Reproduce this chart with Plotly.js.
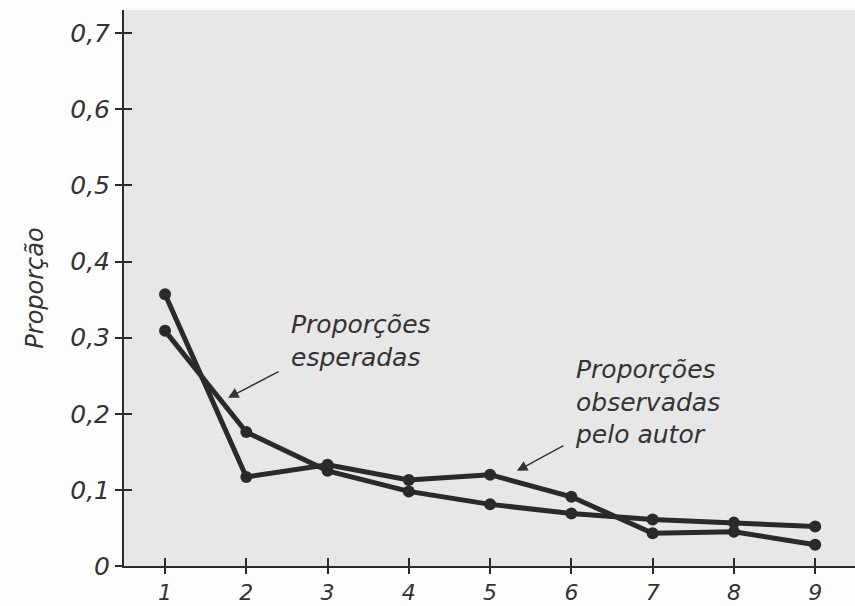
<!DOCTYPE html>
<html>
<head>
<meta charset="utf-8">
<script src="https://cdn.plot.ly/plotly-3.0.1.min.js"></script>
<style>html,body{margin:0;padding:0;background:#fdfdfd;}#chart{width:855px;height:606px;}</style>
</head>
<body>
<div id="chart"></div>
<script>
var digits = [1, 2, 3, 4, 5, 6, 7, 8, 9];
var observed = [0.357, 0.117, 0.133, 0.113, 0.120, 0.091, 0.043, 0.045, 0.028];
var expected = [0.309, 0.176, 0.125, 0.098, 0.081, 0.069, 0.061, 0.057, 0.052];
var yTickVals = [0, 0.1, 0.2, 0.3, 0.4, 0.5, 0.6, 0.7];
var yTickText = ['0', '0,1', '0,2', '0,3', '0,4', '0,5', '0,6', '0,7'];
var xTickVals = [1, 2, 3, 4, 5, 6, 7, 8, 9];
var xTickText = ['1', '2', '3', '4', '5', '6', '7', '8', '9'];

var ink = '#2a2a2a';
var fnt = {family: 'DejaVu Sans', style: 'italic', color: '#333', size: 25};

var lineStyle = {color: ink, width: 5};
var markerStyle = {color: ink, size: 12};

var traces = [
  {x: digits, y: expected, mode: 'lines+markers', line: lineStyle, marker: markerStyle, xaxis: 'x', yaxis: 'y', hoverinfo: 'skip'},
  {x: digits, y: observed, mode: 'lines+markers', line: lineStyle, marker: markerStyle, xaxis: 'x', yaxis: 'y', hoverinfo: 'skip'},
  {x: [], y: [], xaxis: 'x2', yaxis: 'y2', hoverinfo: 'skip'}
];

var xr = [0.495, 9.49];
var yr = [0, 0.7306];

var layout = {
  width: 855, height: 606,
  margin: {l: 124, r: 0, t: 10, b: 40},
  paper_bgcolor: '#fdfdfd',
  plot_bgcolor: '#e7e7e7',
  showlegend: false,
  font: fnt,
  xaxis: {
    range: xr, tickvals: xTickVals, ticktext: xTickText,
    showgrid: false, zeroline: false, showline: true, linecolor: ink, linewidth: 2,
    ticks: 'outside', ticklen: 6, tickwidth: 2, tickcolor: ink,
    tickfont: {family: 'DejaVu Sans', style: 'italic', color: '#333', size: 22}
  },
  yaxis: {
    range: yr, tickvals: yTickVals, ticktext: yTickText,
    showgrid: false, zeroline: false, showline: true, linecolor: ink, linewidth: 2,
    ticks: 'outside', ticklen: 7, tickwidth: 2, tickcolor: ink,
    tickfont: {family: 'DejaVu Sans', style: 'italic', color: '#333', size: 25},
    title: {text: 'Proporção', font: {family: 'DejaVu Sans', style: 'italic', color: '#333', size: 24}, standoff: 20}
  },
  xaxis2: {
    range: xr, tickvals: xTickVals, overlaying: 'x', anchor: 'y2', side: 'bottom',
    showgrid: false, zeroline: false, showline: false, showticklabels: false,
    ticks: 'inside', ticklen: 8, tickwidth: 2, tickcolor: ink
  },
  yaxis2: {
    range: yr, tickvals: yTickVals, overlaying: 'y', anchor: 'x2', side: 'left',
    showgrid: false, zeroline: false, showline: false, showticklabels: false,
    ticks: 'inside', ticklen: 8, tickwidth: 2, tickcolor: ink
  },
  annotations: [
    {x: 2.526, y: 0.296, xref: 'x', yref: 'y', xanchor: 'left', yanchor: 'middle', align: 'left',
     text: 'Proporções<br>esperadas', showarrow: false, font: fnt},
    {x: 1.775, y: 0.221, xref: 'x', yref: 'y', ax: 52, ay: -27, text: '', showarrow: true,
     arrowhead: 2, arrowsize: 1.4, arrowwidth: 1.5, arrowcolor: '#333'},
    {x: 6.018, y: 0.216, xref: 'x', yref: 'y', xanchor: 'left', yanchor: 'middle', align: 'left',
     text: 'Proporções<br>observadas<br>pelo autor', showarrow: false, font: fnt},
    {x: 5.33, y: 0.125, xref: 'x', yref: 'y', ax: 48, ay: -26, text: '', showarrow: true,
     arrowhead: 2, arrowsize: 1.4, arrowwidth: 1.5, arrowcolor: '#333'}
  ]
};

Plotly.newPlot('chart', traces, layout, {staticPlot: true, displayModeBar: false});
</script>
</body>
</html>
